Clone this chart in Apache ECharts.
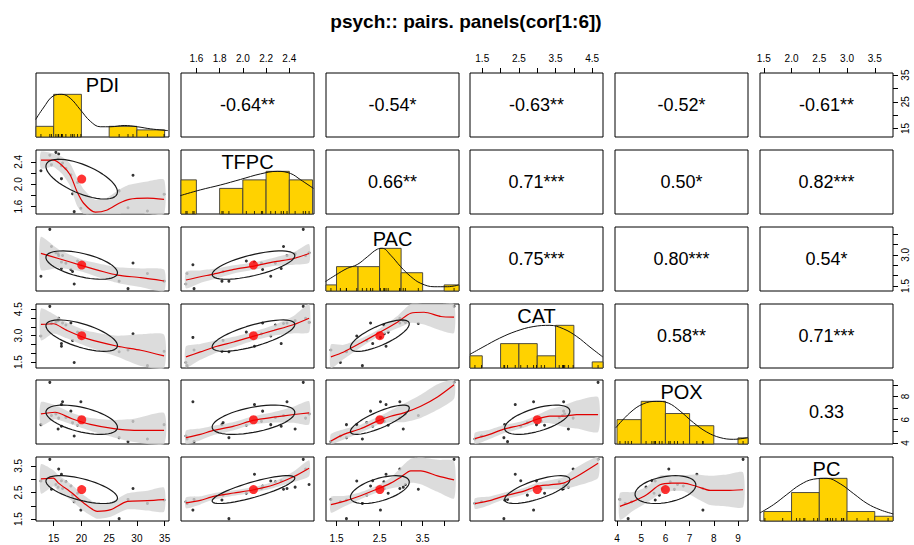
<!DOCTYPE html>
<html><head><meta charset="utf-8">
<script src="https://cdn.jsdelivr.net/npm/echarts@6/dist/echarts.min.js"></script>
<style>html,body{margin:0;padding:0;background:#fff}#chart{width:914px;height:545px}</style>
</head><body><div id="chart"></div>
<script>
const varNames = ['PDI','TFPC','PAC','CAT','POX','PC'];
const PDI  = [12.7,14.3,14.6,15.9,16.6,16.4,16.4,18.1,18.4,18.7,19.3,19.9,26.8,28.4,29.3,31.9,34.9,15.4,15.8,17.2];
const TFPC = [2.24,2.52,2.35,2.54,2.38,2.33,2.10,2.17,1.83,1.51,2.03,1.57,1.88,1.58,2.16,1.52,1.82,2.57,2.45,2.28];
const PAC  = [1.97,4.23,3.40,2.97,2.97,2.34,2.65,2.29,2.20,1.59,2.70,2.52,1.73,1.37,2.61,2.10,1.73,3.10,3.05,2.60];
const CAT  = [2.98,4.66,3.69,3.98,3.72,2.55,2.40,3.72,2.73,1.48,3.20,2.90,2.09,2.19,3.11,1.30,2.11,3.75,3.85,3.60];
const POX  = [5.58,9.21,6.37,6.14,7.55,5.44,7.30,6.74,5.75,4.60,5.53,7.55,4.46,4.12,5.86,4.34,5.58,6.50,5.20,6.20];
const PC   = [2.93,3.74,2.62,3.38,2.65,2.94,3.18,2.74,2.40,2.15,2.47,1.84,1.52,2.24,2.65,2.09,2.22,2.80,2.70,2.90];

// correlations (upper triangle, row-major) and significance stars
const corrValues = [-0.64,-0.54,-0.63,-0.52,-0.61, 0.66,0.71,0.50,0.82, 0.75,0.80,0.54, 0.58,0.71, 0.33];
const corrStars  = ['**','*','**','*','**', '**','***','*','***', '***','***','*', '**','***', ''];

// histogram breaks
const breaksPDI  = [10,15,20,25,30,35];
const breaksTFPC = [1.4,1.6,1.8,2.0,2.2,2.4,2.6];
const breaksPAC  = [1.0,1.5,2.0,2.5,3.0,3.5,4.0,4.5];
const breaksCAT  = [1.0,1.5,2.0,2.5,3.0,3.5,4.0,4.5,5.0];
const breaksPOX  = [4,5,6,7,8,9,10];
const breaksPC   = [1.5,2.0,2.5,3.0,3.5,4.0];

// density curves (x, density scaled to max 1)
const densPDI  = [[11.75,0.41],[13.13,0.68],[14.95,0.965],[16.47,1.0],[17.98,0.91],[19.8,0.64],[21.6,0.37],[23.4,0.24],[25.3,0.24],[27.7,0.27],[30.1,0.24],[32.5,0.19],[35.6,0.15]];
const densTFPC = [[1.461,0.43],[1.634,0.565],[1.807,0.68],[1.98,0.81],[2.152,0.94],[2.297,1.0],[2.41,0.95],[2.498,0.80],[2.608,0.60]];
const densPAC  = [[1.242,0.22],[1.475,0.37],[1.748,0.53],[1.981,0.62],[2.214,0.80],[2.447,0.98],[2.564,1.0],[2.757,0.84],[2.99,0.57],[3.223,0.34],[3.456,0.18],[3.766,0.10],[4.079,0.10],[4.335,0.14]];
const densCAT  = [[1.163,0.32],[1.519,0.49],[1.976,0.70],[2.434,0.865],[2.888,0.97],[3.345,1.0],[3.71,0.92],[4.076,0.74],[4.44,0.49],[4.788,0.26]];
const densPOX  = [[3.95,0.38],[4.53,0.73],[5.08,0.94],[5.64,1.0],[6.12,0.96],[6.61,0.77],[7.16,0.50],[7.71,0.28],[8.26,0.15],[8.82,0.11],[9.41,0.15]];
const densPC   = [[1.431,0.19],[1.672,0.38],[1.914,0.62],[2.155,0.85],[2.396,0.98],[2.638,1.0],[2.879,0.87],[3.12,0.64],[3.362,0.41],[3.603,0.26],[3.833,0.165]];

// loess fits: [x, fit, half-width of confidence band]
const loessTFPC_PDI = [[12.7,2.43,0.15],[14.95,2.43,0.12],[16.47,2.34,0.15],[17.98,2.165,0.2],[19.2,1.87,0.25],[20.4,1.66,0.25],[22.5,1.50,0.22],[24.65,1.54,0.22],[26.8,1.66,0.24],[28.6,1.73,0.26],[31.9,1.75,0.3],[34.9,1.73,0.35]];
const loessPAC_PDI  = [[12.7,3.07,0.8],[15.85,2.826,0.45],[19.8,2.505,0.3],[24.0,2.184,0.35],[26.5,2.026,0.38],[30.7,1.897,0.45],[34.9,1.739,0.55]];
const loessCAT_PDI  = [[12.7,3.635,0.9],[14.95,3.675,0.55],[17.38,3.298,0.45],[21.0,2.83,0.45],[26.5,2.398,0.6],[30.7,2.173,0.9],[34.9,1.852,1.2]];
const loessPOX_PDI  = [[12.7,6.507,1.0],[15.25,6.644,0.6],[18.3,6.081,0.5],[21.6,5.595,0.55],[25.85,5.229,0.75],[29.5,5.084,1.0],[34.9,5.084,1.5]];
const loessPC_PDI   = [[12.7,3.011,0.55],[14.95,3.037,0.3],[15.86,2.851,0.3],[18.3,2.479,0.3],[20.4,2.108,0.3],[22.85,1.795,0.28],[25.3,1.858,0.27],[28.3,2.167,0.3],[31.9,2.193,0.37],[34.9,2.23,0.45]];
const loessPAC_TFPC = [[1.51,1.787,0.4],[1.634,1.945,0.3],[1.749,2.074,0.25],[1.922,2.30,0.2],[2.095,2.457,0.18],[2.267,2.663,0.2],[2.44,2.826,0.3],[2.57,3.065,0.45]];
const loessCAT_TFPC = [[1.51,1.796,0.6],[1.634,2.077,0.45],[1.778,2.398,0.35],[1.922,2.64,0.3],[2.095,2.977,0.25],[2.267,3.298,0.3],[2.44,3.635,0.5],[2.57,3.99,0.8]];
const loessPOX_TFPC = [[1.51,4.462,0.6],[1.634,4.743,0.5],[1.749,5.084,0.4],[1.922,5.45,0.35],[2.095,5.962,0.35],[2.267,6.218,0.45],[2.44,6.448,0.7],[2.57,6.593,1.0]];
const loessPC_TFPC  = [[1.51,2.108,0.2],[1.634,2.204,0.15],[1.749,2.353,0.12],[1.922,2.479,0.1],[2.095,2.602,0.1],[2.267,2.788,0.12],[2.44,3.097,0.2],[2.57,3.409,0.3]];
const loessCAT_PAC  = [[1.37,1.796,0.7],[1.669,2.077,0.4],[2.058,2.583,0.25],[2.447,3.112,0.2],[2.913,3.765,0.35],[3.223,4.271,0.55],[3.533,4.327,0.7],[3.923,4.085,0.8],[4.23,4.046,0.9]];
const loessPOX_PAC  = [[1.37,4.172,0.6],[1.669,4.743,0.45],[2.058,5.229,0.35],[2.447,5.877,0.35],[2.757,6.303,0.5],[3.068,6.593,0.8],[3.456,7.155,1.0],[3.845,7.956,1.1],[4.23,9.005,1.2]];
const loessPC_PAC   = [[1.37,2.044,0.3],[1.669,2.167,0.2],[2.058,2.379,0.13],[2.447,2.628,0.13],[2.757,2.851,0.2],[2.99,3.074,0.35],[3.223,3.309,0.45],[3.456,3.309,0.5],[3.845,3.123,0.6],[4.23,2.974,0.7]];
const loessPOX_CAT  = [[1.30,4.376,0.5],[1.703,4.743,0.4],[2.067,5.17,0.35],[2.614,5.595,0.3],[2.981,6.022,0.35],[3.345,6.303,0.6],[3.71,6.303,0.9],[4.077,6.448,1.2],[4.66,6.448,1.5]];
const loessPC_CAT   = [[1.30,2.082,0.2],[1.703,2.193,0.16],[2.067,2.353,0.13],[2.614,2.539,0.12],[2.981,2.725,0.13],[3.345,2.788,0.17],[3.71,2.851,0.22],[4.077,3.097,0.35],[4.66,3.595,0.55]];
const loessPC_POX   = [[4.12,1.981,0.5],[4.667,2.167,0.35],[5.223,2.416,0.3],[5.775,2.788,0.35],[6.261,2.851,0.3],[6.742,2.851,0.3],[7.298,2.725,0.45],[7.85,2.576,0.55],[8.543,2.576,0.6],[9.21,2.602,0.65]];

// tick values and tick labels
const ticksPDI  = [15,20,25,30,35];
const ticksTFPC = [1.6,1.8,2.0,2.2,2.4];
const ticksPAC  = [1.5,2.0,2.5,3.0,3.5,4.0];
const ticksCAT  = [1.5,2.0,2.5,3.0,3.5,4.0,4.5];
const ticksPOX  = [4,5,6,7,8,9];
const ticksPC   = [1.5,2.0,2.5,3.0,3.5];
const xLabelsPDI  = [15,20,25,30,35];
const xLabelsTFPC = [1.6,1.8,2.0,2.2,2.4];
const xLabelsPAC  = [1.5,2.5,3.5];
const xLabelsCAT  = [1.5,2.5,3.5,4.5];
const xLabelsPOX  = [4,5,6,7,8,9];
const xLabelsPC   = [1.5,2.0,2.5,3.0,3.5];
const yLabelsPDI  = [15,25,35];
const yLabelsTFPC = [1.6,2.0,2.4];
const yLabelsPAC  = [1.5,3.0];
const yLabelsCAT  = [1.5,3.0,4.5];
const yLabelsPOX  = [4,6,8];
const yLabelsPC   = [1.5,2.5,3.5];
const titleText = 'psych:: pairs. panels(cor[1:6])';

// ---------------- assembly ----------------
const vars = [PDI,TFPC,PAC,CAT,POX,PC];
const breaks = [breaksPDI,breaksTFPC,breaksPAC,breaksCAT,breaksPOX,breaksPC];
const dens = [densPDI,densTFPC,densPAC,densCAT,densPOX,densPC];
const ticks = [ticksPDI,ticksTFPC,ticksPAC,ticksCAT,ticksPOX,ticksPC];
const xLabels = [xLabelsPDI,xLabelsTFPC,xLabelsPAC,xLabelsCAT,xLabelsPOX,xLabelsPC];
const yLabels = [yLabelsPDI,yLabelsTFPC,yLabelsPAC,yLabelsCAT,yLabelsPOX,yLabelsPC];
const decimals = [0,1,1,1,0,1];
const smooths = {
  '1,0':loessTFPC_PDI,'2,0':loessPAC_PDI,'3,0':loessCAT_PDI,'4,0':loessPOX_PDI,'5,0':loessPC_PDI,
  '2,1':loessPAC_TFPC,'3,1':loessCAT_TFPC,'4,1':loessPOX_TFPC,'5,1':loessPC_TFPC,
  '3,2':loessCAT_PAC,'4,2':loessPOX_PAC,'5,2':loessPC_PAC,
  '4,3':loessPOX_CAT,'5,3':loessPC_CAT,'5,4':loessPC_POX
};

const mean = a => a.reduce((s,v)=>s+v,0)/a.length;
const sdev = a => { const m = mean(a); return Math.sqrt(a.reduce((s,v)=>s+(v-m)*(v-m),0)/(a.length-1)); };
const ranges = vars.map(a => { const mn = Math.min(...a), mx = Math.max(...a), d = (mx-mn)*0.04; return [mn-d, mx+d]; });
function corrIndex(i,j){ let k=0; for(let a=0;a<6;a++) for(let b=a+1;b<6;b++){ if(a===i&&b===j) return k; k++; } return -1; }

const FONT = 'Liberation Sans, Arial, sans-serif';
const COL_LEFT = [36,181,326,470,615,760], COL_W = 133;
const ROW_TOP = [73,150,227,304,380,457], ROW_H = 64;

const grids=[], xAxes=[], yAxes=[], series=[];
const fmt = k => v => decimals[k] ? Number(v).toFixed(1) : String(Math.round(v));
const textLabel = (txt, size) => ({show:true, position:'inside', formatter:txt, fontSize:size, color:'#000',
  opacity:1, textBorderWidth:0, textShadowBlur:0, fontWeight:'normal', fontFamily:FONT});

for (let i=0;i<6;i++) for (let j=0;j<6;j++) {
  const g = i*6+j;
  grids.push({left:COL_LEFT[j], top:ROW_TOP[i], width:COL_W, height:ROW_H, show:true,
    borderColor:'#000', borderWidth:1, backgroundColor:'transparent'});
  const showTop = i===0 && j%2===1, showBottom = i===5 && j%2===0;
  xAxes.push({type:'value', gridIndex:g, min:ranges[j][0], max:ranges[j][1],
    show: showTop||showBottom, position: showTop?'top':'bottom',
    splitLine:{show:false}, axisLine:{show:false},
    axisTick:{show:true, customValues:ticks[j], length:5, inside:false, lineStyle:{color:'#000',width:1}},
    axisLabel:{show:true, customValues:xLabels[j], formatter:fmt(j), fontSize:10, color:'#000', fontFamily:FONT, margin: showTop?10:12}
  });
  const showLeft = j===0 && i%2===1, showRight = j===5 && i%2===0;
  const diag = i===j;
  yAxes.push({type:'value', gridIndex:g, min: diag?0:ranges[i][0], max: diag?1.5:ranges[i][1],
    show: showLeft||showRight, position: showLeft?'left':'right',
    splitLine:{show:false}, axisLine:{show:false},
    axisTick:{show:true, customValues:ticks[i], length:5, inside:false, lineStyle:{color:'#000',width:1}},
    axisLabel:{show:true, rotate:90, customValues:yLabels[i], formatter:fmt(i), fontSize:10, color:'#000', fontFamily:FONT, margin: showLeft?13:7}
  });

  if (i < j) {
    const k = corrIndex(i,j);
    const txt = corrValues[k].toFixed(2) + corrStars[k];
    series.push({type:'scatter', xAxisIndex:g, yAxisIndex:g, silent:true,
      data:[[(ranges[j][0]+ranges[j][1])/2,(ranges[i][0]+ranges[i][1])/2]],
      symbolSize:0, itemStyle:{color:'#000'}, label:textLabel(txt,18)});
  } else if (diag) {
    const v = vars[i], br = breaks[i];
    const counts = [];
    for (let b=0;b<br.length-1;b++) counts.push(v.filter(x => (b===0 ? x>=br[b] : x>br[b]) && x<=br[b+1]).length);
    const cmax = Math.max(...counts);
    const bins = counts.map((c,b)=>[br[b],br[b+1],c/cmax]).filter(d=>d[2]>0);
    series.push({type:'custom', xAxisIndex:g, yAxisIndex:g, silent:true, z:2,
      data:bins, encode:{x:[0,1], y:2},
      renderItem:(params, api) => {
        const p0 = api.coord([api.value(0),0]), p1 = api.coord([api.value(1),api.value(2)]);
        const cs = params.coordSys;
        const r = echarts.graphic.clipRectByRect({x:p0[0],y:p1[1],width:p1[0]-p0[0],height:p0[1]-p1[1]},{x:cs.x,y:cs.y,width:cs.width,height:cs.height});
        return r && {type:'rect', shape:r, style:{fill:'#FFD200', stroke:'#3a3a3a', lineWidth:0.9}};
      }});
    series.push({type:'line', xAxisIndex:g, yAxisIndex:g, silent:true, z:3, data:dens[i],
      symbol:'none', smooth:0.4, lineStyle:{color:'#111', width:1}});
    series.push({type:'custom', xAxisIndex:g, yAxisIndex:g, silent:true, z:4,
      data:v.map(x=>[x,0]), encode:{x:0,y:1},
      renderItem:(params, api) => {
        const p = api.coord([api.value(0),0]);
        return {type:'line', shape:{x1:p[0],y1:p[1],x2:p[0],y2:p[1]-3}, style:{stroke:'#000', lineWidth:0.8}};
      }});
    series.push({type:'scatter', xAxisIndex:g, yAxisIndex:g, silent:true, z:5,
      data:[[(ranges[i][0]+ranges[i][1])/2, 1.22]], symbolSize:0, itemStyle:{color:'#000'},
      label:textLabel(varNames[i],20)});
  } else {
    const xv = vars[j], yv = vars[i];
    series.push({type:'scatter', xAxisIndex:g, yAxisIndex:g, silent:true, z:2,
      data: xv.map((x,n)=>[x, yv[n]]), symbolSize:3, itemStyle:{color:'#000'}});
    const L = smooths[i+','+j];
    series.push({type:'custom', xAxisIndex:g, yAxisIndex:g, silent:true, z:3,
      data: L.map(p=>[p[0],p[1]]), encode:{x:0,y:1},
      renderItem:(params, api) => {
        if (params.dataIndex !== 0) return null;
        const up = L.map(p=>api.coord([p[0],p[1]+p[2]]));
        const lo = L.map(p=>api.coord([p[0],p[1]-p[2]])).reverse();
        const cs = params.coordSys;
        const pts = echarts.graphic.clipPointsByRect(up.concat(lo),{x:cs.x,y:cs.y,width:cs.width,height:cs.height});
        return {type:'polygon', shape:{points:pts, smooth:0.2}, style:{fill:'rgba(211,211,211,0.8)'}};
      }});
    series.push({type:'line', xAxisIndex:g, yAxisIndex:g, silent:true, z:4, data:L.map(p=>[p[0],p[1]]),
      symbol:'none', smooth:0.25, lineStyle:{color:'#E00000', width:1.2}});
    // correlation ellipse (1 SD), as drawn by psych::draw.ellipse
    const r = corrValues[corrIndex(j,i)];
    const mx = mean(xv), my = mean(yv), sx = sdev(xv), sy = sdev(yv);
    const th = (r>0?1:-1)/Math.SQRT2, s1 = Math.sqrt(1+r), s2 = Math.sqrt(1-r);
    const ell = [];
    for (let a=0;a<=51;a++) {
      const t = a*2*Math.PI/51, c = Math.cos(t), s = Math.sin(t);
      ell.push([mx + sx*th*(s1*c - s2*s), my + sy*th*(s1*c + s2*s)]);
    }
    series.push({type:'line', xAxisIndex:g, yAxisIndex:g, silent:true, z:4, data:ell,
      symbol:'none', smooth:false, lineStyle:{color:'#1a1a1a', width:1.2}});
    series.push({type:'scatter', xAxisIndex:g, yAxisIndex:g, silent:true, z:5,
      data:[[mx,my]], symbolSize:9, itemStyle:{color:'#FF0000'}});
  }
}

const chart = echarts.init(document.getElementById('chart'), null, {renderer:'svg', width:914, height:545});
chart.setOption({
  animation:false,
  backgroundColor:'#fff',
  graphic:[{type:'text', x:466, y:21, style:{text:titleText, font:'bold 19px '+FONT, fill:'#000', textAlign:'center', textVerticalAlign:'middle'}}],
  grid:grids, xAxis:xAxes, yAxis:yAxes, series:series
});
</script></body></html>
